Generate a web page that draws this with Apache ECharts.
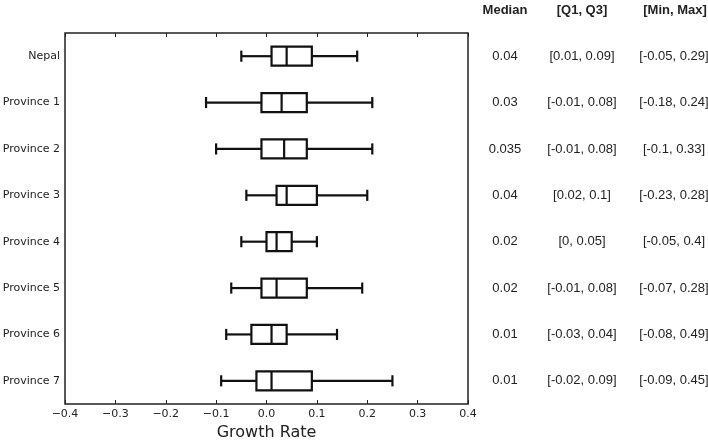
<!DOCTYPE html>
<html><head><meta charset="utf-8">
<script src="https://cdn.jsdelivr.net/npm/echarts@6/dist/echarts.min.js"></script>
<style>html,body{margin:0;padding:0;background:#fff}#c{width:708px;height:442px}</style>
</head><body><div id="c"></div>
<script>
const categories = ['Nepal','Province 1','Province 2','Province 3','Province 4','Province 5','Province 6','Province 7'];
const whiskerLow = [-0.05,-0.12,-0.10,-0.04,-0.05,-0.07,-0.08,-0.09];
const q1 =        [0.01,-0.01,-0.01,0.02,0.00,-0.01,-0.03,-0.02];
const medians =   [0.04,0.03,0.035,0.04,0.02,0.02,0.01,0.01];
const q3 =        [0.09,0.08,0.08,0.10,0.05,0.08,0.04,0.09];
const whiskerHigh = [0.18,0.21,0.21,0.20,0.10,0.19,0.14,0.25];
const tableMedian = ['0.04','0.03','0.035','0.04','0.02','0.02','0.01','0.01'];
const tableQ = ['[0.01, 0.09]','[-0.01, 0.08]','[-0.01, 0.08]','[0.02, 0.1]','[0, 0.05]','[-0.01, 0.08]','[-0.03, 0.04]','[-0.02, 0.09]'];
const tableMinMax = ['[-0.05, 0.29]','[-0.18, 0.24]','[-0.1, 0.33]','[-0.23, 0.28]','[-0.05, 0.4]','[-0.07, 0.28]','[-0.08, 0.49]','[-0.09, 0.45]'];
const tableHeaders = ['Median','[Q1, Q3]','[Min, Max]'];
const xTicks = {min:-0.4, max:0.4, interval:0.1};

const data = categories.map((c,i)=>[whiskerLow[i],q1[i],medians[i],q3[i],whiskerHigh[i],i]);
const chart = echarts.init(document.getElementById('c'), null, {renderer:'canvas'});
const fmtX = v => (Math.abs(v)<1e-9?0:v).toFixed(1).replace('-','\u2212');
const tableFont = {fontFamily:'Liberation Sans', fontSize:13, color:'#222'};
function tableAxis(arr, margin){
  return {type:'category', data:categories, inverse:true, position:'right', gridIndex:0,
    axisLine:{show:false}, axisTick:{show:false}, splitLine:{show:false},
    axisLabel:Object.assign({margin:margin, align:'center', formatter:(v,i)=>arr[i]}, tableFont)};
}
const yCommon = {type:'category', data:categories, inverse:true, boundaryGap:true,
  axisLine:{show:false}, splitLine:{show:false}};
const option = {
  backgroundColor:'#fff',
  animation:false,
  grid:{left:65, right:240, top:33, bottom:38, show:true, borderColor:'#222', borderWidth:1.5,
        backgroundColor:'transparent', containLabel:false, outerBoundsMode:'none'},
  xAxis:[
    {type:'value', min:xTicks.min, max:xTicks.max, interval:xTicks.interval, position:'bottom',
     axisLine:{show:false}, splitLine:{show:false},
     axisTick:{show:true, inside:true, length:4, lineStyle:{color:'#222'}},
     axisLabel:{formatter:fmtX, margin:5, fontFamily:'DejaVu Sans', fontSize:11, color:'#222'},
     name:'Growth Rate', nameLocation:'middle', nameGap:21,
     nameTextStyle:{fontFamily:'DejaVu Sans', fontSize:16, color:'#222'}},
    {type:'value', min:xTicks.min, max:xTicks.max, interval:xTicks.interval, position:'top',
     axisLine:{show:false}, splitLine:{show:false}, axisLabel:{show:false},
     axisTick:{show:true, inside:true, length:4, lineStyle:{color:'#222'}}}
  ],
  yAxis:[
    Object.assign({}, yCommon, {position:'left',
      axisTick:{show:true, inside:true, length:4, alignWithLabel:true, lineStyle:{color:'#222'}},
      axisLabel:{margin:5, fontFamily:'DejaVu Sans', fontSize:11, color:'#222'}}),
    Object.assign({}, yCommon, {position:'right',
      axisTick:{show:true, inside:true, length:4, alignWithLabel:true, lineStyle:{color:'#222'}},
      axisLabel:{show:false}}),
    tableAxis(tableMedian, 37),
    tableAxis(tableQ, 114),
    tableAxis(tableMinMax, 206)
  ],
  graphic: tableHeaders.map((h,i)=>({type:'text', x:[505,582,675][i], y:10,
    style:{text:h, fontFamily:'Liberation Sans', fontSize:13, fontWeight:'bold', fill:'#222', align:'center', verticalAlign:'middle'}})),
  series:[{
    type:'custom', xAxisIndex:0, yAxisIndex:0,
    encode:{x:[0,1,2,3,4], y:5},
    data:data,
    renderItem:function(params, api){
      const cat = api.value(5);
      const pLo = api.coord([api.value(0), cat]);
      const pQ1 = api.coord([api.value(1), cat]);
      const pMed = api.coord([api.value(2), cat]);
      const pQ3 = api.coord([api.value(3), cat]);
      const pHi = api.coord([api.value(4), cat]);
      const band = api.size([0,1])[1];
      const bh = band*0.41, ch = band*0.24;
      const y = pMed[1];
      const st = {stroke:'#111', lineWidth:2.2, fill:null};
      return {type:'group', children:[
        {type:'line', shape:{x1:pLo[0], y1:y, x2:pQ1[0], y2:y}, style:st},
        {type:'line', shape:{x1:pQ3[0], y1:y, x2:pHi[0], y2:y}, style:st},
        {type:'line', shape:{x1:pLo[0], y1:y-ch/2, x2:pLo[0], y2:y+ch/2}, style:st},
        {type:'line', shape:{x1:pHi[0], y1:y-ch/2, x2:pHi[0], y2:y+ch/2}, style:st},
        {type:'rect', shape:{x:pQ1[0], y:y-bh/2, width:pQ3[0]-pQ1[0], height:bh}, style:{stroke:'#111', lineWidth:2.2, fill:'#fff'}},
        {type:'line', shape:{x1:pMed[0], y1:y-bh/2, x2:pMed[0], y2:y+bh/2}, style:st}
      ]};
    }
  }]
};
chart.setOption(option);
</script></body></html>
